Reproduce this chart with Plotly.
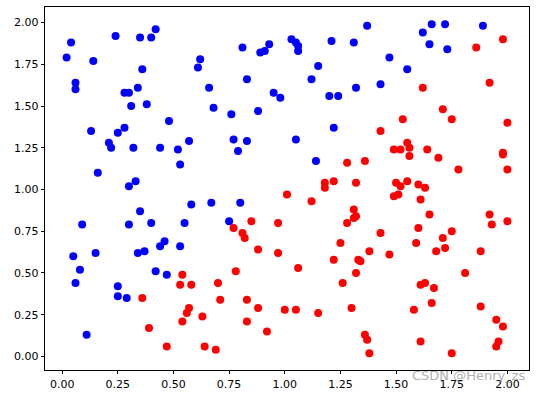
import plotly.graph_objects as go

blue_x = [0.04, 0.02, 0.24, 0.35, 0.40, 0.42, 0.14, 0.62, 0.61, 0.36, 0.06, 0.06, 0.34, 0.28, 0.30,
          0.31, 0.38, 0.48, 0.13, 0.25, 0.28, 0.66, 0.81, 0.89, 0.91, 0.93, 1.03, 1.05, 1.06, 1.06,
          1.21, 1.31, 1.37, 1.15, 0.83, 1.12, 1.32, 0.95, 0.98, 1.20, 1.24, 0.68, 0.76, 0.88, 1.22,
          1.62, 1.66, 1.72, 1.89, 1.65, 1.73, 1.47, 1.55, 1.43, 0.21, 0.22, 0.32, 0.44, 0.52, 0.57,
          0.53, 0.16, 0.33, 0.30, 0.58, 0.67, 0.35, 0.40, 0.09, 0.30, 0.55, 0.44, 0.46, 0.53, 0.15,
          0.34, 0.37, 0.05, 0.08, 0.06, 0.25, 0.25, 0.29, 0.42, 0.47, 0.11, 0.77, 0.83, 0.79, 1.05,
          1.14, 0.80, 0.75]
blue_y = [1.88, 1.79, 1.92, 1.91, 1.91, 1.96, 1.77, 1.78, 1.73, 1.72, 1.64, 1.60, 1.61, 1.58, 1.58,
          1.50, 1.51, 1.41, 1.35, 1.34, 1.37, 1.61, 1.85, 1.82, 1.83, 1.87, 1.90, 1.88, 1.86, 1.83,
          1.89, 1.88, 1.98, 1.74, 1.66, 1.66, 1.61, 1.58, 1.55, 1.56, 1.56, 1.49, 1.45, 1.47, 1.37,
          1.94, 1.99, 1.99, 1.98, 1.87, 1.84, 1.79, 1.72, 1.63, 1.28, 1.25, 1.25, 1.25, 1.24, 1.29,
          1.15, 1.10, 1.05, 1.02, 0.91, 0.92, 0.87, 0.80, 0.79, 0.79, 0.80, 0.66, 0.69, 0.66, 0.62,
          0.62, 0.63, 0.60, 0.52, 0.44, 0.42, 0.36, 0.35, 0.51, 0.49, 0.13, 1.30, 1.29, 1.23, 1.30,
          1.17, 0.92, 0.81]

red_x = [1.98, 1.86, 1.92, 1.62, 1.71, 1.75, 1.53, 2.00, 1.43, 1.55, 1.49, 1.52, 1.56, 1.56, 1.64,
         1.69, 1.78, 1.98, 1.98, 2.00, 1.50, 1.52, 1.55, 1.60, 1.63, 1.49, 1.51, 1.61, 1.65, 1.92,
         1.93, 2.00, 1.60, 1.43, 1.75, 1.71, 1.59, 1.72, 1.47, 1.68, 1.88, 1.81, 1.61, 1.63, 1.67,
         1.66, 1.58, 1.88, 1.95, 1.98, 1.61, 1.75, 1.95, 1.96, 1.28, 1.36, 1.32, 1.18, 1.22, 1.18,
         1.01, 1.12, 1.31, 1.32, 1.31, 1.28, 0.85, 0.97, 0.77, 0.81, 0.82, 0.88, 0.97, 1.25, 1.38,
         1.22, 1.33, 1.34, 1.32, 0.78, 1.06, 0.70, 1.26, 0.71, 0.83, 0.88, 1.00, 1.05, 1.15, 1.30,
         0.83, 0.92, 1.36, 1.37, 1.38, 0.69, 0.54, 0.53, 0.58, 0.36, 0.57, 0.56, 0.54, 0.63, 0.39,
         0.47, 0.64]
red_y = [1.90, 1.85, 1.64, 1.61, 1.48, 1.42, 1.42, 1.40, 1.35, 1.28, 1.24, 1.24, 1.25, 1.20, 1.24,
         1.19, 1.12, 1.22, 1.21, 1.12, 1.04, 1.02, 1.05, 1.03, 1.01, 0.96, 0.97, 0.94, 0.85, 0.85,
         0.79, 0.81, 0.77, 0.74, 0.75, 0.71, 0.68, 0.65, 0.61, 0.63, 0.63, 0.50, 0.43, 0.44, 0.41,
         0.32, 0.28, 0.30, 0.22, 0.18, 0.09, 0.02, 0.06, 0.09, 1.16, 1.17, 1.04, 1.04, 1.05, 1.01,
         0.97, 0.93, 0.88, 0.84, 0.83, 0.80, 0.81, 0.80, 0.77, 0.74, 0.71, 0.64, 0.62, 0.68, 0.63,
         0.58, 0.58, 0.57, 0.50, 0.51, 0.53, 0.44, 0.44, 0.34, 0.34, 0.29, 0.28, 0.28, 0.26, 0.29,
         0.21, 0.15, 0.13, 0.10, 0.02, 0.04, 0.49, 0.43, 0.43, 0.35, 0.29, 0.26, 0.21, 0.24, 0.17,
         0.06, 0.06]

tick_vals = [0.0, 0.25, 0.5, 0.75, 1.0, 1.25, 1.5, 1.75, 2.0]
tick_text = ["0.00", "0.25", "0.50", "0.75", "1.00", "1.25", "1.50", "1.75", "2.00"]

fig = go.Figure()
fig.add_trace(go.Scatter(x=blue_x, y=blue_y, mode="markers",
                         marker=dict(color="#0000ff", size=8, line=dict(width=0))))
fig.add_trace(go.Scatter(x=red_x, y=red_y, mode="markers",
                         marker=dict(color="#ff0000", size=8, line=dict(width=0))))

axis_common = dict(showgrid=False, zeroline=False, showline=True, mirror=True,
                   linecolor="black", linewidth=0.8, ticks="outside", ticklen=3.5,
                   tickwidth=0.8, tickcolor="black", tickvals=tick_vals, ticktext=tick_text,
                   automargin=False,
                   tickfont=dict(family="DejaVu Sans", size=11, color="black"))

fig.update_layout(
    width=536, height=394,
    margin=dict(l=45, r=7, t=7, b=24),
    paper_bgcolor="white", plot_bgcolor="white",
    showlegend=False,
    xaxis=dict(range=[-0.077, 2.097], **axis_common),
    yaxis=dict(range=[-0.081, 2.093], **axis_common),
    annotations=[dict(text="CSDN @Henry_zs", xref="paper", yref="paper",
                      x=0.998, y=-5 / 363, xanchor="right", yanchor="middle", showarrow=False,
                      font=dict(family="DejaVu Sans", size=13, color="rgba(140,140,140,0.7)"))],
)

fig.write_html("out.html", config={"displayModeBar": False},
               post_script="document.body.style.margin='0';document.body.style.overflow='hidden';")
